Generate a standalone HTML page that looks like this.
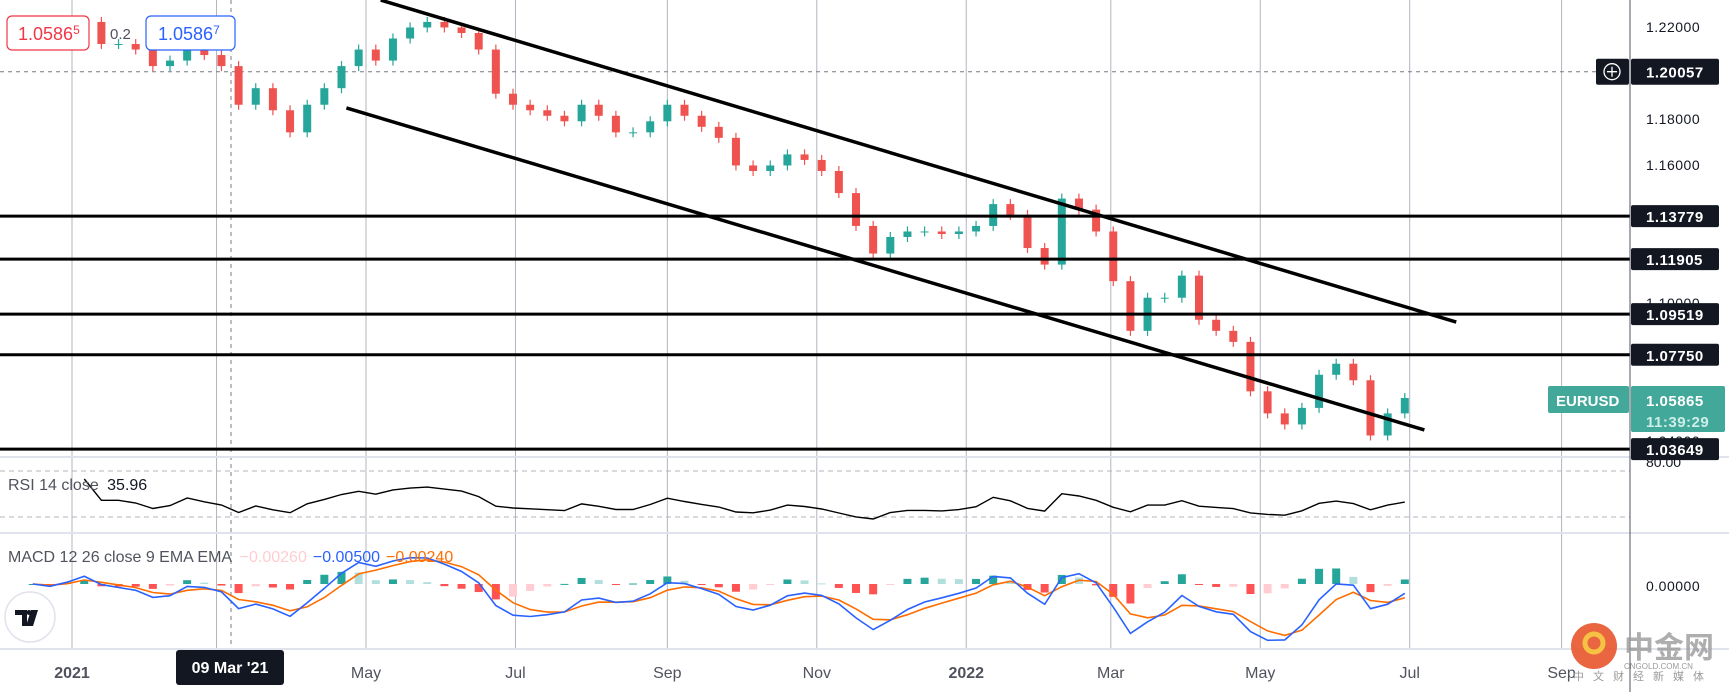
<!DOCTYPE html>
<html><head><meta charset="utf-8"><style>
html,body{margin:0;padding:0;background:#fff;}
svg{display:block;font-family:"Liberation Sans","Noto Sans CJK SC",sans-serif;}
</style></head><body>
<svg id="chart" width="1729" height="692" viewBox="0 0 1729 692" xmlns="http://www.w3.org/2000/svg">
<rect x="0" y="0" width="1729" height="692" fill="#fff"/>
<g id="grid"></g>
<g id="candles"></g>
<g id="levels"></g>
<g id="rsi"></g>
<g id="macd"></g>
<g id="axes"></g>
</svg>
<script>
const closes=[1.2150,1.2126,1.2174,1.2222,1.2126,1.2126,1.2102,1.2030,1.2054,1.2126,1.2078,1.2030,1.1862,1.1934,1.1838,1.1742,1.1862,1.1934,1.2030,1.2102,1.2054,1.2150,1.2198,1.2222,1.2198,1.2174,1.2102,1.1910,1.1862,1.1838,1.1814,1.1790,1.1862,1.1814,1.1742,1.1742,1.1790,1.1862,1.1814,1.1766,1.1718,1.1598,1.1574,1.1598,1.1646,1.1622,1.1574,1.1478,1.1335,1.1215,1.1287,1.1311,1.1311,1.1300,1.1311,1.1335,1.1430,1.1383,1.1239,1.1167,1.1454,1.1406,1.1311,1.1095,1.0879,1.1023,1.1023,1.1119,1.0927,1.0879,1.0831,1.0616,1.0520,1.0472,1.0544,1.0688,1.0736,1.0664,1.0424,1.0520,1.0587];
const firstOpen=1.2126;
const firstWeek='2020-12-14';
const priceTicks=[1.22,1.18,1.16,1.10,1.04];
const levels=[1.13779,1.11905,1.09519,1.07750,1.03649];
const crossPrice=1.20057;
const channelUpper=[['2021-05-07',1.2317],['2022-07-20',1.0917]];
const channelLower=[['2021-04-23',1.1848],['2022-07-07',1.0448]];
const monthLabels=['2021','May','Jul','Sep','Nov','2022','Mar','May','Jul','Sep'];
const monthDates=['2021-01-01','2021-05-01','2021-07-01','2021-09-01','2021-11-01','2022-01-01','2022-03-01','2022-05-01','2022-07-01','2022-09-01'];
const gridDates=['2021-01-01','2021-03-01','2021-05-01','2021-07-01','2021-09-01','2021-11-01','2022-01-01','2022-03-01','2022-05-01','2022-07-01','2022-09-01'];

const NS='http://www.w3.org/2000/svg';
const T0=Date.UTC(2021,0,1);
function xD(s){const d=(typeof s==='number')?s:Date.parse(s+'T00:00:00Z');return 72+(d-T0)/864e5*2.45;}
function yP(p){return 27+(1.22-p)*2300;}
function el(tag,attrs,parent,text){const e=document.createElementNS(NS,tag);for(const k in attrs)e.setAttribute(k,attrs[k]);if(text!==undefined)e.textContent=text;parent.appendChild(e);return e;}
const wk0=Date.parse(firstWeek+'T00:00:00Z');
function xW(i){return xD(wk0+(i*7+2)*864e5);}

// grid
const g=document.getElementById('grid');
gridDates.forEach(d=>{const l=el('line',{x1:xD(d),x2:xD(d),y1:0,y2:649,stroke:'#b2b5be','stroke-width':1},g);

});
const ch=el('line',{x1:231,x2:231,y1:0,y2:649,stroke:'#787b86','stroke-width':1,'stroke-dasharray':'4,4'},g);


const chh=el('line',{x1:0,x2:1630,y1:yP(crossPrice),y2:yP(crossPrice),stroke:'#787b86','stroke-width':1,'stroke-dasharray':'4,4'},g);



// candles
const cg=document.getElementById('candles');
closes.forEach((c,i)=>{const o=i?closes[i-1]:firstOpen;const up=c>=o;const col=up?'#26a69a':'#ef5350';
const x=xW(i);const yt=yP(Math.max(o,c)),yb=yP(Math.min(o,c));
const w=el('line',{x1:x,x2:x,y1:yt-5,y2:yb+5,stroke:col,'stroke-width':1.2},cg);


const b=el('rect',{x:x-4,y:yt,width:8,height:Math.max(1,yb-yt),fill:col},cg);

});

// levels and channel
const lg=document.getElementById('levels');
levels.forEach(p=>{const l=el('line',{x1:0,x2:1630,y1:yP(p),y2:yP(p),stroke:'#000','stroke-width':3},lg);

});
[channelUpper,channelLower].forEach((c,k)=>{const l=el('line',{x1:xD(c[0][0]),y1:yP(c[0][1]),x2:xD(c[1][0]),y2:yP(c[1][1]),stroke:'#000','stroke-width':3.5},lg);

});

// RSI
const rg=document.getElementById('rsi');
function rsiCalc(arr,n){const out=[];let ag=0,al=0;for(let i=1;i<arr.length;i++){const d=arr[i]-arr[i-1];const gn=Math.max(d,0),ls=Math.max(-d,0);if(i<=n){ag+=gn/n;al+=ls/n;}else{ag=(ag*(n-1)+gn)/n;al=(al*(n-1)+ls)/n;}out.push(i>=3?100-100/(1+ag/(al||1e-9)):null);}return out;}
const rsiVals=rsiCalc(closes,8);
function yR(v){return Math.max(470,Math.min(526,497+(50-v)*0.6));}
[471,517].forEach(y=>{const l=el('line',{x1:0,x2:1630,y1:y,y2:y,stroke:'#b2b5be','stroke-dasharray':'5,4'},rg);

});
let rp='';rsiVals.forEach((v,i)=>{if(v!==null)rp+=(rp?'L':'M')+xW(i+1).toFixed(1)+','+yR(v).toFixed(1);});
const rl=el('path',{d:rp,fill:'none',stroke:'#000','stroke-width':1.4},rg);


const rt=el('text',{x:8,y:490,'font-size':16,fill:'#50535e'},rg,'RSI 14 close ');


el('tspan',{fill:'#131722',dx:4},rt,'35.96');

// MACD
const mg=document.getElementById('macd');
function ema(arr,n){const k=2/(n+1);const o=[];arr.forEach((v,i)=>o.push(i?v*k+o[i-1]*(1-k):v));return o;}
const ef=ema(closes,3),es=ema(closes,6);
const macdVals=ef.map((v,i)=>v-es[i]);
const sigVals=ema(macdVals,3);
function yM(v){return 584-v*4500;}
macdVals.forEach((m,i)=>{const h=m-sigVals[i];const prev=i?macdVals[i-1]-sigVals[i-1]:0;
const col=h>=0?(h>=prev?'#26a69a':'#b2dfdb'):(h<prev?'#ff5252':'#ffcdd2');
const y0=yM(0),y1=yM(h);const b=el('rect',{x:xW(i)-4,y:Math.min(y0,y1),width:8,height:Math.max(1,Math.abs(y1-y0)),fill:col},mg);

});
function pth(a){return a.map((v,i)=>(i?'L':'M')+xW(i).toFixed(1)+','+yM(v).toFixed(1)).join('');}
const sl=el('path',{d:pth(sigVals),fill:'none',stroke:'#ff6d00','stroke-width':1.6},mg);


const ml=el('path',{d:pth(macdVals),fill:'none',stroke:'#2962ff','stroke-width':1.6},mg);


const mt=el('text',{x:8,y:562,'font-size':16,fill:'#50535e'},mg,'MACD 12 26 close 9 EMA EMA ');


el('tspan',{fill:'#ffcdd2',dx:4},mt,'−0.00260');
el('tspan',{fill:'#2962ff',dx:6},mt,'−0.00500');
el('tspan',{fill:'#ff6d00',dx:6},mt,'−0.00240');

// axes
const ax=document.getElementById('axes');
[457,533,649].forEach(y=>{const l=el('line',{x1:0,x2:1729,y1:y,y2:y,stroke:'#e0e3eb','stroke-width':2},ax);

});
const av=el('line',{x1:1630,x2:1630,y1:0,y2:692,stroke:'#50535e','stroke-width':1},ax);


priceTicks.forEach(p=>{const t=el('text',{x:1646,y:yP(p)+5,'font-size':14,fill:'#131722','letter-spacing':'0.5'},ax,p.toFixed(5));

});
const t80=el('text',{x:1646,y:467,'font-size':14,fill:'#131722'},ax,'80.00');


const t0=el('text',{x:1646,y:591,'font-size':14,fill:'#131722','letter-spacing':'0.5'},ax,'0.00000');


levels.forEach(p=>{const y=yP(p);const r=el('rect',{x:1631,y:y-11,width:88,height:22,rx:2,fill:'#131722'},ax);


const t=el('text',{x:1646,y:y+6,'font-size':15,'font-weight':'bold',fill:'#fff','letter-spacing':'0.5'},ax,p.toFixed(5));

});
const yc=yP(crossPrice);
const cb=el('rect',{x:1596,y:yc-13,width:33,height:26,rx:2,fill:'#131722'},ax);


el('circle',{cx:1612,cy:yc,r:8,fill:'none',stroke:'#fff','stroke-width':1.3},ax);
el('path',{d:`M1607,${yc}H1617M1612,${yc-5}V${yc+5}`,stroke:'#fff','stroke-width':1.3},ax);
const cr=el('rect',{x:1631,y:yc-13,width:88,height:26,rx:2,fill:'#131722'},ax);


el('text',{x:1646,y:yc+6,'font-size':15,'font-weight':'bold',fill:'#fff','letter-spacing':'0.5'},ax,crossPrice.toFixed(5));
const eb=el('rect',{x:1548,y:386,width:81,height:27,rx:2,fill:'#42a89a'},ax);


el('text',{x:1556,y:406,'font-size':15,'font-weight':'bold',fill:'#fff'},ax,'EURUSD');
const lb=el('rect',{x:1631,y:386,width:94,height:46,rx:2,fill:'#42a89a'},ax);


el('text',{x:1646,y:406,'font-size':15,'font-weight':'bold',fill:'#fff','letter-spacing':'0.5'},ax,'1.05865');
el('text',{x:1646,y:427,'font-size':15,'font-weight':'bold',fill:'#cdeee9','letter-spacing':'0.5'},ax,'11:39:29');
monthLabels.forEach((m,i)=>{const bold=/^\d{4}$/.test(m);const t=el('text',{x:xD(monthDates[i]),y:678,'font-size':16,'text-anchor':'middle',fill:'#50535e','font-weight':bold?'bold':'normal'},ax,m);

});
const db=el('rect',{x:176,y:650,width:108,height:35,rx:3,fill:'#131722'},ax);


el('text',{x:230,y:673,'font-size':16,'font-weight':'bold','text-anchor':'middle',fill:'#fff'},ax,"09 Mar '21");
const b1=el('rect',{x:7,y:16,width:82,height:34,rx:5,fill:'#fff',stroke:'#f23645','stroke-width':1.2},ax);


const t1=el('text',{x:18,y:40,'font-size':18,fill:'#f23645'},ax,'1.0586');
el('tspan',{dy:-6,'font-size':12},t1,'5');
const sp=el('text',{x:110,y:39,'font-size':15,fill:'#50535e'},ax,'0.2');


const b2=el('rect',{x:146,y:16,width:89,height:34,rx:5,fill:'#fff',stroke:'#2962ff','stroke-width':1.2},ax);


const t2=el('text',{x:158,y:40,'font-size':18,fill:'#2962ff'},ax,'1.0586');
el('tspan',{dy:-6,'font-size':12},t2,'7');
const lc=el('circle',{cx:30,cy:617,r:25,fill:'#fff',stroke:'#e0e3eb','stroke-width':1.5},ax);


el('path',{d:'M15,610H27V626H22V615H15Z M31,610H38L33,626H26Z',fill:'#131722'},ax);
el('circle',{cx:29,cy:612.5,r:2.5,fill:'#131722'},ax);
const wm=el('circle',{cx:1594,cy:646,r:23,fill:'#e8552b',opacity:0.9},ax);


el('circle',{cx:1594,cy:643,r:9,fill:'none',stroke:'#f6c244','stroke-width':5},ax);
const wt=el('text',{x:1624,y:658,'font-size':30,'font-weight':'bold',fill:'#9a9a9a',opacity:0.8},ax,'中金网');


el('text',{x:1624,y:669,'font-size':8,fill:'#9a9a9a'},ax,'CNGOLD.COM.CN');
el('text',{x:1573,y:680,'font-size':11,fill:'#9a9a9a','letter-spacing':'9'},ax,'中文财经新媒体');
</script>
</body></html>
